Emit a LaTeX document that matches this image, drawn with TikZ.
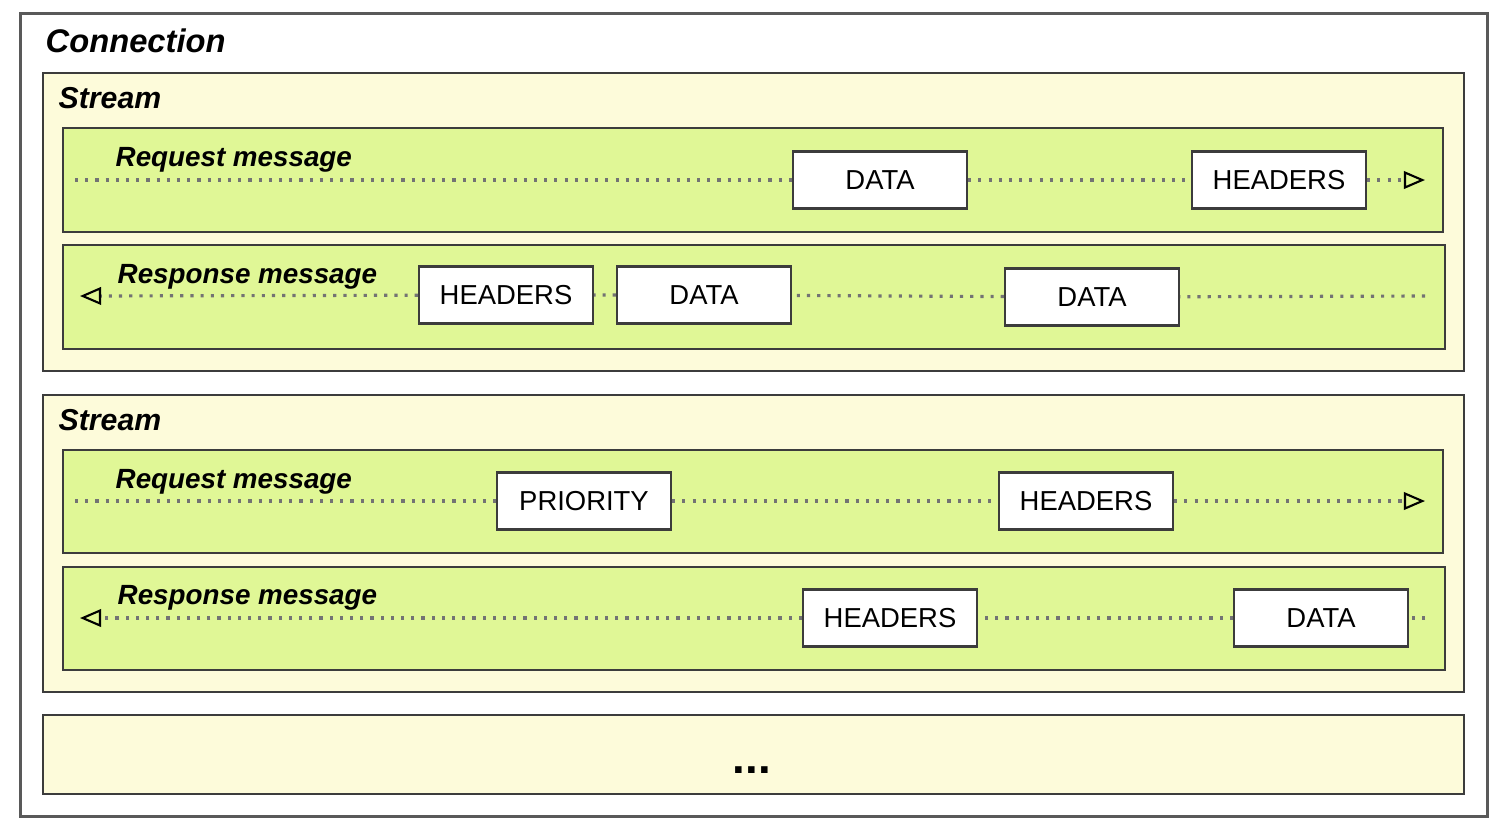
\documentclass[tikz,border=0pt]{standalone}
\usepackage{fontspec}
\setmainfont{Liberation Sans}
\usetikzlibrary{arrows.meta}
\definecolor{streamfill}{RGB}{253,251,218}
\definecolor{msgfill}{RGB}{224,247,150}
\definecolor{framegray}{RGB}{60,60,60}
\begin{document}
\begin{tikzpicture}[x=0.01cm, y=-0.01cm, >={Triangle[open,length=6pt,width=5pt,color=black,line width=0.6pt]}]
    \tikzstyle{frame}=[rectangle,draw=framegray,line width=0.6pt,anchor=north west,inner sep=0pt]
    \tikzstyle{stream}=[frame,fill=streamfill,minimum width=14.2cm]
    \tikzstyle{msg}=[frame,fill=msgfill,minimum height=1.04cm]
    \tikzstyle{frm}=[rectangle,draw=framegray,line width=0.6pt,fill=white,inner sep=0pt,minimum width=1.74cm,minimum height=0.57cm,font=\fontsize{7.8}{9}\selectfont]
    \tikzstyle{title}=[anchor=base west,inner sep=0pt,font=\bfseries\itshape]
    \tikzstyle{flow}=[draw=black!55,line width=0.9pt,dash pattern=on 0.9pt off 2pt]
    \useasboundingbox (0,0) rectangle (1500,829);
    \node[frame,draw=black!65,line width=0.8pt,fill=white,minimum width=14.66cm,minimum height=8.03cm] (conn) at (19,12) {};
    \node[title,font=\bfseries\itshape\fontsize{9.3}{11}\selectfont] (connlabel) at (45,52) {Connection};
    % first stream
    \node[stream,minimum height=2.98cm] (stream1) at (42,72) {};
    \node[title,font=\bfseries\itshape\fontsize{8.6}{10}\selectfont] (stream1label) at (58,108) {Stream};
    \node[msg,minimum width=13.79cm] (req1) at (62,127) {};
    \node[msg,minimum width=13.81cm] (resp1) at (62,244) {};
    \node[title,font=\bfseries\itshape\fontsize{7.9}{9}\selectfont] (req1label) at (115,166) {Request message};
    \node[title,font=\bfseries\itshape\fontsize{7.9}{9}\selectfont] (resp1label) at (117,283) {Response message};
    \node[frm] (req1data) at (880,180) {DATA};
    \node[frm] (req1headers) at (1279,180) {HEADERS};
    \coordinate (req1start) at (75,180);
    \coordinate (req1end) at (1425,180);
    \draw[flow,->] (req1start) -- (req1data) -- (req1headers) -- (req1end);
    \node[frm] (resp1headers) at (506,295) {HEADERS};
    \node[frm] (resp1data) at (704,295) {DATA};
    \node[frm] (resp1data2) at (1092,297) {DATA};
    \coordinate (resp1start) at (1425,296);
    \coordinate (resp1end) at (80,296);
    \draw[flow,->] (resp1start) -- (resp1data2) -- (resp1data) -- (resp1headers) -- (resp1end);
    % second stream
    \node[stream,minimum height=2.97cm] (stream2) at (42,394) {};
    \node[title,font=\bfseries\itshape\fontsize{8.6}{10}\selectfont] (stream2label) at (58,430) {Stream};
    \node[msg,minimum width=13.79cm,minimum height=1.03cm] (req2) at (62,449) {};
    \node[msg,minimum width=13.81cm,minimum height=1.03cm] (resp2) at (62,566) {};
    \node[title,font=\bfseries\itshape\fontsize{7.9}{9}\selectfont] (req2label) at (115,488) {Request message};
    \node[title,font=\bfseries\itshape\fontsize{7.9}{9}\selectfont] (resp2label) at (117,604) {Response message};
    \node[frm] (req2priority) at (584,501) {PRIORITY};
    \node[frm] (req2headers) at (1086,501) {HEADERS};
    \coordinate (req2start) at (75,501);
    \coordinate (req2end) at (1425,501);
    \draw[flow,->] (req2start) -- (req2priority) -- (req2headers) -- (req2end);
    \node[frm] (resp2headers) at (890,618) {HEADERS};
    \node[frm] (resp2data) at (1321,618) {DATA};
    \coordinate (resp2start) at (1425,618);
    \coordinate (resp2end) at (80,618);
    \draw[flow,->] (resp2start) -- (resp2data) -- (resp2headers) -- (resp2end);
    % more streams
    \node[stream,minimum height=0.79cm] (more) at (42,714) {};
    \node[anchor=base,font=\bfseries\fontsize{13}{14}\selectfont,inner sep=0pt] (dots) at (752,773) {...};
  \end{tikzpicture}
\end{document}
